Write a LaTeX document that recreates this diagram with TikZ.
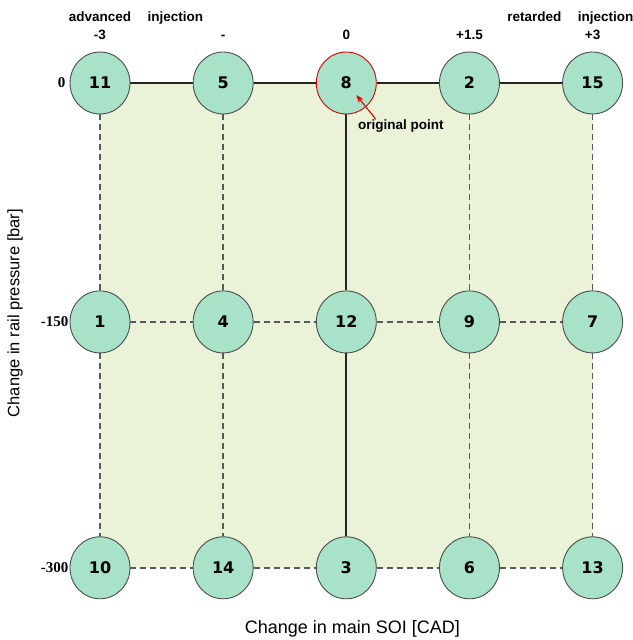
\documentclass[tikz,border=0pt]{standalone}
\usepackage{fontspec}
\setmainfont{Liberation Sans}
\newfontfamily\numfont{DejaVu Sans}
\newfontfamily\valfont{Liberation Serif}
\usepackage{xcolor}
\usepackage{tikz}
\usetikzlibrary{shapes.geometric, arrows.meta, positioning, backgrounds}
\definecolor{ptgreen}{RGB}{168,226,200}
\definecolor{bggreen}{RGB}{234,243,216}
\tikzset{
  pt/.style={ellipse, draw=black!70, fill=ptgreen, line width=0.9pt,
             minimum width=60pt, minimum height=62pt, inner sep=0pt,
             font=\numfont\bfseries\fontsize{16}{16}\selectfont},
  ptR/.style={pt, draw=red!85!black},
  solidline/.style={line width=1.8pt, draw=black!85},
  dashline/.style={line width=1.4pt, draw=black!65,
                   dash pattern=on 6pt off 4pt},
  toplbl/.style={inner sep=0pt, text height=9.5pt, text depth=0pt,
                 font=\bfseries\fontsize{13.5}{13.5}\selectfont},
  yval/.style={inner sep=0pt, font=\valfont\bfseries\fontsize{15}{15}\selectfont},
  note/.style={inner sep=0pt, text height=10pt, text depth=3pt,
               font=\bfseries\fontsize{13.5}{13.5}\selectfont},
  axlbl/.style={inner sep=0pt, font=\fontsize{18}{18}\selectfont},
  redarrow/.style={-{Stealth[length=8pt, width=6pt]}, line width=1.1pt,
                   draw=red!90!black},
}
\begin{document}
\begin{tikzpicture}[x=1pt, y=-1pt, node distance=176pt and 62.25pt]
  \useasboundingbox (0,0) rectangle (632,640);

  % --- Nodes ---
  \node[pt] (p11) at (100,83) {11};
  \node[pt, right=of p11] (p5) {5};
  \node[ptR, right=of p5] (p8) {8};
  \node[pt, right=of p8] (p2) {2};
  \node[pt, right=of p2] (p15) {15};

  \node[pt, below=of p11] (p1) {1};
  \node[pt, right=of p1] (p4) {4};
  \node[pt, right=of p4] (p12) {12};
  \node[pt, right=of p12] (p9) {9};
  \node[pt, right=of p9] (p7) {7};

  \node[pt, below=183pt of p1] (p10) {10};
  \node[pt, right=of p10] (p14) {14};
  \node[pt, right=of p14] (p3) {3};
  \node[pt, right=of p3] (p6) {6};
  \node[pt, right=of p6] (p13) {13};

  % top labels
  \node[toplbl, above=12pt of p11] (sM3) {-3};
  \node[toplbl, above=12pt of p5] (sM) {-};
  \node[toplbl, above=12pt of p8] (s0) {0};
  \node[toplbl, above=12pt of p2] (sP15) {+1.5};
  \node[toplbl, above=12pt of p15] (sP3) {+3};
  \node[toplbl, above=8pt of sM3] (adv) {advanced};
  \node[toplbl, right=16pt of adv] (injA) {injection};
  \node[toplbl, above=8pt of sP3, xshift=13pt] (injR) {injection};
  \node[toplbl, left=16pt of injR] (ret) {retarded};

  % left labels
  \node[yval, left=4pt of p11] (r0) {0};
  \node[yval, left=1pt of p1] (r150) {-150};
  \node[yval, left=1pt of p10] (r300) {-300};

  % axes
  \node[axlbl, below=20.5pt of p3, xshift=6pt] (xlab) {Change in main SOI [CAD]};
  \node[axlbl, rotate=90, font=\fontsize{16.5}{16.5}\selectfont] (ylab) at (15,313)
    {Change in rail pressure [bar]};

  \node[note, below right=14pt and -10pt of p8] (orig) {original point};
  \coordinate (tip) at ([xshift=10pt, yshift=-12pt]p8.center);

  % --- Background ---
  \begin{scope}[on background layer]
    \fill[bggreen] (p11.center) rectangle (p13.center);
  \end{scope}

  % --- Edges ---
  \draw[solidline] (p11) -- (p5) -- (p8) -- (p2) -- (p15);
  \draw[solidline] (p8) -- (p12) -- (p3);
  \draw[dashline] (p1) -- (p4) -- (p12) -- (p9) -- (p7);
  \draw[dashline] (p10) -- (p14) -- (p3) -- (p6) -- (p13);
  \draw[dashline] (p11) -- (p1) -- (p10);
  \draw[dashline] (p5) -- (p4) -- (p14);
  \draw[dashline] (p2) -- (p9) -- (p6);
  \draw[dashline] (p15) -- (p7) -- (p13);
  \draw[redarrow] ([xshift=18pt]orig.north west) -- (tip);

\end{tikzpicture}
\end{document}
